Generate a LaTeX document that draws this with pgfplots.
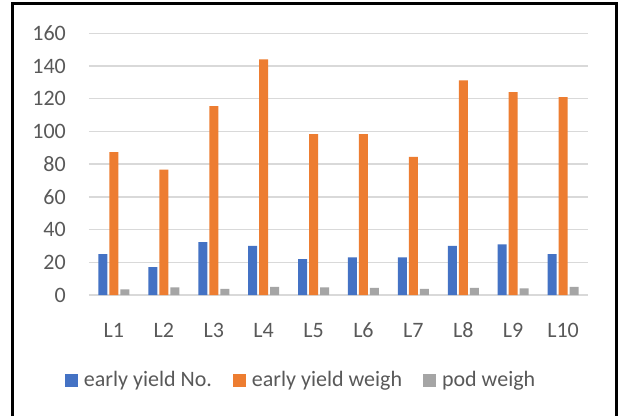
\documentclass[border=0pt]{standalone}
\usepackage{pgfplots}
\pgfplotsset{compat=1.18}
\usepackage{fontspec}
\setmainfont{Carlito}
\definecolor{cblue}{HTML}{4472C4}
\definecolor{corange}{HTML}{ED7D31}
\definecolor{cgray}{HTML}{A5A5A5}
\definecolor{ctext}{HTML}{595959}
\definecolor{cgrid}{HTML}{D9D9D9}
\begin{document}
\fontsize{22}{26}\selectfont
\begin{tikzpicture}[x=1pt,y=1pt]
\path[use as bounding box] (-89,-121) rectangle (529,295);
\fill[white] (-89,-121) rectangle (529,295);
\begin{axis}[
  at={(0,0)}, anchor=south west,
  scale only axis, width=499pt, height=261.7pt,
  xmin=0.5, xmax=10.5, ymin=0, ymax=160,
  ytick={0,20,...,160},
  xtick={1,...,10},
  xticklabels={L1,L2,L3,L4,L5,L6,L7,L8,L9,L10},
  axis line style={draw=none},
  tick style={draw=none},
  ymajorgrids, grid style={cgrid, line width=1.5pt},
  /pgf/number format/assume math mode=true,
  ticklabel style={font=\fontsize{22}{26}\selectfont, text=ctext, inner sep=0pt},
  yticklabel style={anchor=east, xshift=-23pt},
  xticklabel style={anchor=center, yshift=-31pt},
  ybar=2pt, bar width=9pt,
  legend columns=3,
  legend style={at={(0.423,-0.325)}, anchor=center, draw=none, fill=none,
    font=\fontsize{22}{26}\selectfont, text=ctext,
    nodes={inner sep=0pt},
    /tikz/every odd column/.append style={column sep=6pt},
    /tikz/every even column/.append style={column sep=21pt}},
  legend image code/.code={\fill[#1] (0pt,-6.5pt) rectangle (13pt,6.5pt);},
]
\addplot[fill=cblue, draw=none] coordinates {(1,25) (2,17) (3,32.4) (4,30) (5,22) (6,23) (7,23) (8,30) (9,31) (10,25)};
\addplot[fill=corange, draw=none] coordinates {(1,87.4) (2,76.6) (3,115.5) (4,144) (5,98.4) (6,98.4) (7,84.5) (8,131.2) (9,124) (10,121)};
\addplot[fill=cgray, draw=none] coordinates {(1,3.5) (2,4.7) (3,3.7) (4,4.9) (5,4.7) (6,4.3) (7,3.7) (8,4.3) (9,4) (10,4.9)};
\legend{early yield No., early yield weigh, pod weigh}
\end{axis}
\draw[line width=3pt, black] (-76.5,-121) -- (-76.5,291.5) -- (527,291.5) -- (527,-121);
\end{tikzpicture}
\end{document}
